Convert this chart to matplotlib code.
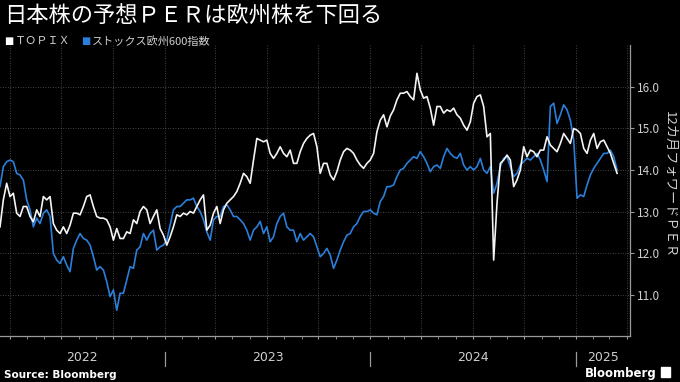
import pandas as pd
import matplotlib.pyplot as plt
import matplotlib.dates as mdates
import matplotlib.transforms as mtransforms
from matplotlib.patches import Rectangle

plt.rcParams['font.family'] = ['Noto Sans CJK JP', 'DejaVu Sans']

# data (roughly every 6 days, 2022-03-14 .. 2025-03-15)
start = '2022-03-14'
end = '2025-03-15'

topix = [
    12.63, 13.28, 13.68, 13.36, 13.44, 12.96, 12.88, 13.12, 13.12, 12.88,
    12.75, 13.04, 12.88, 13.36, 13.28, 13.36, 12.71, 12.55, 12.47, 12.63,
    12.47, 12.67, 12.96, 12.96, 12.92, 13.12, 13.36, 13.40, 13.12, 12.88,
    12.84, 12.84, 12.80, 12.63, 12.31, 12.59, 12.35, 12.35, 12.51, 12.47,
    12.80, 12.71, 13.00, 13.12, 13.04, 12.71, 12.88, 13.04, 12.59, 12.43,
    12.19, 12.39, 12.63, 12.92, 12.88, 12.96, 12.92, 13.00, 12.96, 13.12,
    13.28, 13.40, 12.55, 12.67, 12.96, 13.12, 12.71, 13.04, 13.20, 13.28,
    13.36, 13.48, 13.68, 13.92, 13.84, 13.68, 14.24, 14.76, 14.72, 14.68,
    14.72, 14.40, 14.28, 14.40, 14.56, 14.40, 14.32, 14.48, 14.16, 14.16,
    14.44, 14.64, 14.76, 14.84, 14.88, 14.56, 13.92, 14.16, 14.16, 13.88,
    13.76, 13.96, 14.24, 14.44, 14.52, 14.48, 14.40, 14.24, 14.12, 14.04,
    14.16, 14.24, 14.40, 14.92, 15.20, 15.33, 15.04, 15.30, 15.45, 15.69,
    15.85, 15.85, 15.89, 15.77, 15.69, 16.33, 15.93, 15.73, 15.77, 15.49,
    15.08, 15.53, 15.53, 15.37, 15.45, 15.41, 15.49, 15.33, 15.25, 15.08,
    14.96, 15.16, 15.61, 15.77, 15.81, 15.53, 14.80, 14.88, 11.83, 13.20,
    14.16, 14.24, 14.36, 14.24, 13.60, 13.76, 14.00, 14.56, 14.32, 14.48,
    14.44, 14.32, 14.48, 14.48, 14.80, 14.60, 14.52, 14.44, 14.64, 14.88,
    14.76, 14.64, 15.00, 14.96, 14.88, 14.52, 14.40, 14.72, 14.88, 14.52,
    14.68, 14.72, 14.56, 14.40, 14.16, 13.92,
]

stoxx600 = [
    13.60, 14.08, 14.20, 14.24, 14.20, 13.92, 13.88, 13.76, 13.28, 13.04,
    12.63, 12.84, 12.71, 12.96, 13.04, 12.88, 11.99, 11.83, 11.75, 11.91,
    11.71, 11.55, 12.11, 12.31, 12.47, 12.35, 12.31, 12.19, 11.91, 11.59,
    11.67, 11.59, 11.31, 10.95, 11.11, 10.62, 11.03, 11.03, 11.35, 11.67,
    11.63, 12.07, 12.15, 12.47, 12.31, 12.47, 12.55, 12.07, 12.15, 12.19,
    12.31, 12.67, 13.04, 13.12, 13.12, 13.20, 13.28, 13.28, 13.32, 13.12,
    13.00, 12.80, 12.51, 12.31, 12.80, 12.88, 12.88, 13.12, 13.16, 13.04,
    12.88, 12.88, 12.80, 12.71, 12.55, 12.31, 12.55, 12.63, 12.76, 12.47,
    12.63, 12.27, 12.39, 12.71, 12.88, 12.96, 12.63, 12.55, 12.55, 12.27,
    12.47, 12.31, 12.39, 12.47, 12.39, 12.15, 11.91, 11.99, 12.11, 11.95,
    11.63, 11.83, 12.07, 12.27, 12.43, 12.47, 12.63, 12.71, 12.88, 13.00,
    13.00, 13.04, 12.96, 12.92, 13.24, 13.36, 13.60, 13.60, 13.64, 13.84,
    14.00, 14.04, 14.16, 14.24, 14.32, 14.28, 14.44, 14.32, 14.16, 13.96,
    14.08, 14.12, 14.04, 14.32, 14.52, 14.40, 14.32, 14.28, 14.40, 14.12,
    14.00, 14.08, 14.00, 14.08, 14.28, 14.00, 13.92, 14.08, 13.44, 13.68,
    14.08, 14.28, 14.32, 14.08, 13.84, 13.92, 14.12, 14.20, 14.28, 14.24,
    14.32, 14.40, 14.24, 14.00, 13.72, 15.53, 15.61, 15.12, 15.33, 15.57,
    15.45, 15.20, 14.72, 13.32, 13.40, 13.36, 13.64, 13.88, 14.04, 14.16,
    14.28, 14.40, 14.40, 14.48, 14.32, 14.00,
]

yticks = [11, 12, 13, 14, 15, 16]
years = [2022, 2023, 2024, 2025]

dates = pd.date_range(start, end, periods=len(topix))
x_left = pd.Timestamp('2022-03-14')
x_right = pd.Timestamp('2025-04-07')

grey = '#cfcfcf'
axis_grey = '#9a9a9a'

fig = plt.figure(figsize=(6.8, 3.82), dpi=100, facecolor='black')
ax = fig.add_axes([0, 0.1204, 0.9265, 0.7605], facecolor='black')

ax.plot(dates, stoxx600, color='#2b7fda', lw=1.2)
ax.plot(dates, topix, color='#f4f4f4', lw=1.2)

ax.set_xlim(x_left, x_right)
ax.set_ylim(10, 17)

# right hand axis
ax.yaxis.tick_right()
ax.set_yticks(yticks)
ax.set_yticklabels([f'{v:.1f}' for v in yticks])
ax.tick_params(axis='y', colors=axis_grey, labelcolor=grey, labelsize=8.5,
               length=3, width=0.8, pad=2)
ax.yaxis.set_label_position('right')
ax.set_ylabel('12カ月フォワードＰＥＲ', color=grey, fontsize=9.5,
              rotation=270, labelpad=11, y=0.52)

# quarters for gridlines, months for small ticks
ax.xaxis.set_major_locator(mdates.MonthLocator(bymonth=[1, 4, 7, 10]))
ax.xaxis.set_minor_locator(mdates.MonthLocator())
ax.tick_params(axis='x', which='major', length=2, colors=axis_grey,
               labelbottom=False)
ax.tick_params(axis='x', which='minor', length=2, colors=axis_grey)

ax.grid(True, which='major', color='#5a5a5a', linestyle=(0, (1, 2)), lw=0.6)

for s in ['top', 'left']:
    ax.spines[s].set_visible(False)
for s in ['right', 'bottom']:
    ax.spines[s].set_color(axis_grey)
    ax.spines[s].set_linewidth(0.9)

# year separators and labels under the axis
trans = mtransforms.blended_transform_factory(ax.transData, ax.transAxes)
bounds = [x_left] + [pd.Timestamp(f'{y}-01-01') for y in years[1:]] + [x_right]
for i, y in enumerate(years):
    a, b = bounds[i], bounds[i + 1]
    mid = a + (b - a) / 2
    ax.text(mid, -0.075, str(y), transform=trans, ha='center', va='center',
            color=grey, fontsize=9, family='DejaVu Sans')
    if i > 0:
        ax.plot([a, a], [-0.055, -0.103], transform=trans, color=axis_grey,
                lw=0.9, clip_on=False)

# title and legend
fig.text(0.006, 0.957, '日本株の予想ＰＥＲは欧州株を下回る', color='white',
         fontsize=16, ha='left', va='center')
fig.text(0.006, 0.892, '■', color='white', fontsize=7, ha='left', va='center',
         family='DejaVu Sans')
fig.text(0.022, 0.892, 'ＴＯＰＩＸ', color=grey, fontsize=8, ha='left',
         va='center')
fig.text(0.119, 0.892, '■', color='#2b7fda', fontsize=7, ha='left',
         va='center', family='DejaVu Sans')
fig.text(0.135, 0.892, 'ストックス欧州600指数', color=grey, fontsize=8,
         ha='left', va='center')

# footer
fig.text(0.006, 0.004, 'Source: Bloomberg', color='white', fontsize=7.5,
         fontweight='bold', ha='left', va='bottom', family='DejaVu Sans')
fig.text(0.966, 0.004, 'Bloomberg', color='white', fontsize=8.5,
         fontweight='bold', ha='right', va='bottom', family='DejaVu Sans')
fig.patches.append(Rectangle((0.972, 0.012), 0.014, 0.028, color='white',
                             transform=fig.transFigure, figure=fig))

fig.savefig('out.png', dpi=100, facecolor='black')
